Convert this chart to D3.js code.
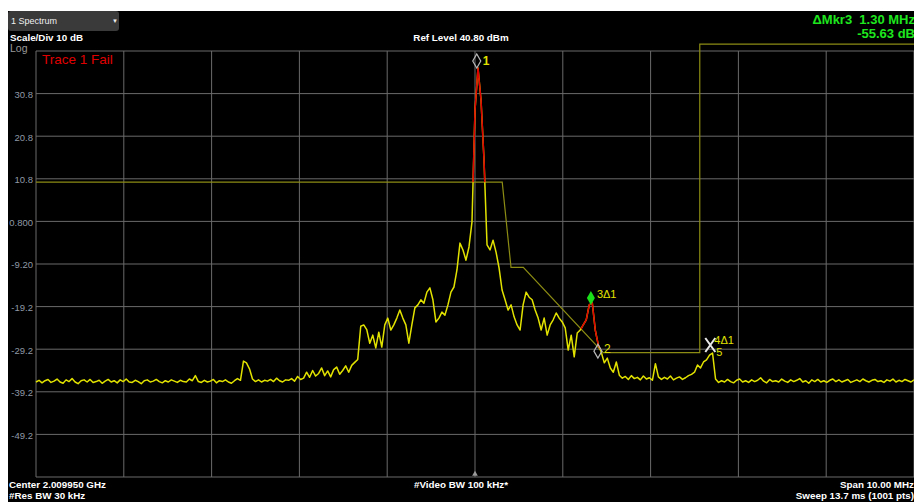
<!DOCTYPE html>
<html>
<head>
<meta charset="utf-8">
<script src="https://cdn.jsdelivr.net/npm/d3@7"></script>
<style>
body { margin: 0; background: #fff; }
svg { display: block; font-family: "Liberation Sans", Arial, sans-serif; }
</style>
</head>
<body>
<div id="chart-container"></div>
<script>
// spectrum analyzer screen, redrawn with d3
const svgWidth = 914;
const svgHeight = 502;
const margin = { top: 51, right: 0, bottom: 25, left: 36 };
const width = svgWidth - margin.left - margin.right;
const height = svgHeight - margin.top - margin.bottom;

// frequency offset from center (MHz) and level (dBm)
const spanStart = -5;
const spanEnd = 5;
const refLevel = 40.8;
const bottomLevel = -59.2;

const freqGridLines = [-5, -4, -3, -2, -1, 0, 1, 2, 3, 4, 5];
const levelGridLines = [40.8, 30.8, 20.8, 10.8, 0.8, -9.2, -19.2, -29.2, -39.2, -49.2, -59.2];
const yTickValues = [30.8, 20.8, 10.8, 0.8, -9.2, -19.2, -29.2, -39.2, -49.2];
const yTickLabels = ["30.8", "20.8", "10.8", "0.800", "-9.20", "-19.2", "-29.2", "-39.2", "-49.2"];

// trace 1 at equal steps across the span
const traceLevels = [
    -36.9,-36.5,-37.1,-36.6,-36.3,-37.0,-36.7,-36.2,-36.9,-37.2,
    -36.4,-36.8,-36.1,-36.9,-37.3,-36.6,-36.4,-36.9,-36.3,-37.0,
    -36.8,-36.5,-37.2,-36.7,-36.3,-36.9,-36.6,-37.1,-36.4,-36.8,
    -36.2,-36.9,-37.0,-36.5,-36.8,-37.3,-36.6,-36.4,-36.9,-36.7,
    -36.3,-36.8,-37.1,-36.6,-36.9,-36.4,-36.7,-37.0,-36.5,-36.8,
    -36.9,-36.2,-36.6,-35.4,-36.8,-37.0,-36.5,-36.9,-36.7,-36.3,
    -37.1,-36.6,-36.8,-36.4,-36.9,-37.2,-36.6,-36.1,-36.5,
    -32.0,-32.4,-33.8,
    -36.2,-36.8,-36.4,-36.9,-36.5,-36.7,-36.3,-36.8,-36.0,-36.6,
    -36.9,-36.4,-36.5,-36.1,-36.7,-35.6,-36.3,-36.0,
    -34.6,-35.8,-34.2,-35.5,-34.9,-33.6,-35.4,-34.3,-35.7,-34.0,
    -33.4,-35.1,-34.2,-33.1,-34.6,
    -33.0,-32.3,-31.6,
    -23.8,-23.5,-24.6,-27.8,-25.9,-28.9,-25.2,-28.7,-23.5,-21.9,
    -24.7,-23.5,-21.9,-20.0,-21.9,-23.5,-27.8,-23.5,-19.5,-18.8,
    -17.6,-18.4,-15.8,-14.8,-17.6,-22.8,-21.9,-20.5,-21.2,-18.8,
    -15.8,-14.6,-10.6,-4.3,-5.9,-8.3,-5.2,0.7,26.9,36.8,
    29.3,15.2,-4.7,-5.9,-3.6,-6.4,-10.1,-15.3,-17.6,-20.0,
    -18.8,-21.6,-23.5,-24.7,-18.8,-15.8,-17.0,-17.6,-20.0,-21.9,
    -24.7,-21.9,-25.9,-23.5,-22.3,-20.7,-21.9,-22.8,-24.2,-29.4,
    -25.9,-31.0,-25.4,-24.7,-23.5,-22.3,-18.8,-18.3,-24.7,-28.2,
    -29.9,-32.4,-31.3,-33.6,-34.6,-32.2,-35.3,
    -36.0,-35.6,-36.3,-35.4,-36.1,-35.8,-36.4,-35.5,-36.2,-35.9,
    -36.5,-32.6,-35.7,-36.3,-35.8,-36.2,-35.5,-36.4,-36.0,-35.7,
    -36.3,-35.9,-35.4,-35.1,
    -34.6,-32.9,-33.6,-32.2,-31.7,-30.6,-30.1,
    -36.2,
    -37.0,-36.6,-36.9,-36.3,-36.8,-37.1,-36.5,-36.2,-36.9,-36.6,
    -37.0,-36.4,-36.8,-36.5,-35.9,-36.7,-37.1,-36.3,-36.8,-36.6,
    -36.9,-36.2,-36.7,-37.0,-36.4,-36.8,-36.5,-36.1,-36.9,-36.6,
    -37.2,-36.4,-36.8,-36.3,-36.9,-36.6,-37.0,-36.5,-36.2,-36.8,
    -36.4,-36.9,-36.6,-36.3,-37.0,-36.7,-36.4,-36.8,-36.2,-36.6,
    -36.9,-36.5,-36.3,-36.8,-36.6,-37.0,-36.4,-36.7,-36.2,-36.9,
    -36.5,-36.8,-36.3,-36.6,-36.9,-36.4
];

// limit line 1
const limitFreqs = [-5, 0.31, 0.41, 0.55, 1.46, 2.56, 2.56, 5];
const limitLevels = [10, 10, -10, -10, -30, -30, 42.4, 42.4];

// markers
const markerIds = ["1", "2", "3", "4", "5"];
const markerLabels = ["1", "2", "3Δ1", "4Δ1", "5"];
const markerFreqs = [0.02, 1.40, 1.32, 2.68, 2.68];
const markerLevels = [36.8, -31.3, -18.8, -30.1, -30.1];

const svg = d3.select("#chart-container")
    .append("svg")
    .attr("width", svgWidth)
    .attr("height", svgHeight);

// screen background
svg.append("rect")
    .attr("x", 8).attr("y", 11)
    .attr("width", svgWidth - 8).attr("height", svgHeight - 11)
    .attr("fill", "#000");

const plot = svg.append("g")
    .attr("transform", `translate(${margin.left},${margin.top})`);

const x = d3.scaleLinear()
    .domain([spanStart, spanEnd])
    .range([0, width]);

const y = d3.scaleLinear()
    .domain([bottomLevel, refLevel])
    .range([height, 0]);

// grid
plot.selectAll(".vgrid")
    .data(freqGridLines)
    .enter()
    .append("line")
    .attr("class", "vgrid")
    .attr("x1", d => x(d)).attr("x2", d => x(d))
    .attr("y1", 0).attr("y2", height)
    .attr("stroke", "#6a6a6a")
    .attr("stroke-width", 1);

plot.selectAll(".hgrid")
    .data(levelGridLines)
    .enter()
    .append("line")
    .attr("class", "hgrid")
    .attr("x1", 0).attr("x2", width)
    .attr("y1", d => y(d)).attr("y2", d => y(d))
    .attr("stroke", "#6a6a6a")
    .attr("stroke-width", 1);

// y axis labels
const yAxis = plot.append("g")
    .attr("class", "axis axis-y")
    .call(d3.axisLeft(y)
        .tickValues(yTickValues)
        .tickFormat((d, i) => yTickLabels[i])
        .tickSize(0)
        .tickPadding(3));
yAxis.select(".domain").remove();
yAxis.selectAll("text")
    .attr("fill", "#8f99a6")
    .attr("font-size", 9.5)
    .attr("dy", "0.4em")
    .style("font-family", "\"Liberation Sans\", Arial, sans-serif");

// limit line
const limitPts = limitFreqs.map((f, i) => [x(f), y(limitLevels[i])]);
plot.append("path")
    .attr("d", d3.line()(limitPts))
    .attr("fill", "none")
    .attr("stroke", "#8c8c14")
    .attr("stroke-width", 1.2);

// region above the limit, trace drawn red there
const failArea = limitPts.concat([[x(spanEnd), -margin.top], [x(spanStart), -margin.top]]);
plot.append("clipPath")
    .attr("id", "failClip")
    .append("path")
    .attr("d", d3.line()(failArea) + "Z");

const n = traceLevels.length;
const stepF = (spanEnd - spanStart) / (n - 1);
const traceLine = d3.line()
    .x((d, i) => x(spanStart + i * stepF))
    .y(d => y(d));

plot.append("path")
    .attr("d", traceLine(traceLevels))
    .attr("fill", "none")
    .attr("stroke", "#e2e200")
    .attr("stroke-width", 1.5)
    .attr("stroke-linejoin", "round");

plot.append("path")
    .attr("d", traceLine(traceLevels))
    .attr("clip-path", "url(#failClip)")
    .attr("fill", "none")
    .attr("stroke", "#e00000")
    .attr("stroke-width", 1.5)
    .attr("stroke-linejoin", "round");

// center tick at the bottom
plot.append("path")
    .attr("d", d3.symbol().type(d3.symbolTriangle).size(14)())
    .attr("transform", `translate(${x(0)},${height - 3})`)
    .attr("fill", "#9a9a9a");

// markers, tip of the symbol sits on the trace
const markers = markerIds.map((id, i) => ({
    id: id,
    label: markerLabels[i],
    px: x(markerFreqs[i]),
    py: y(markerLevels[i])
}));

const diamond = "M0,0 L-4,-7 L0,-14 L4,-7 Z";
markers.forEach(m => {
    const g = plot.append("g").attr("transform", `translate(${m.px},${m.py})`);
    if (m.id === "3") {
        g.append("path").attr("d", diamond).attr("fill", "#19e019");
        g.append("text").text(m.label)
            .attr("x", 6).attr("y", -7)
            .attr("fill", "#e2e200").attr("font-size", 11);
    } else if (m.id === "1" || m.id === "2") {
        g.append("path").attr("d", diamond)
            .attr("fill", "none").attr("stroke", "#b8b8b8").attr("stroke-width", 1.2);
        g.append("text").text(m.label)
            .attr("x", 6).attr("y", m.id === "1" ? -3 : -5)
            .attr("fill", "#e2e200").attr("font-size", 12)
            .attr("font-weight", m.id === "1" ? "bold" : "normal");
    } else if (m.id === "4") {
        g.append("path").attr("d", "M-5,-15 L5,-1 M5,-15 L-5,-1")
            .attr("stroke", "#e8e8e8").attr("stroke-width", 2);
        g.append("text").text(m.label)
            .attr("x", 4).attr("y", -9)
            .attr("fill", "#e2e200").attr("font-size", 11);
    } else {
        g.append("text").text(m.label)
            .attr("x", 6).attr("y", 3)
            .attr("fill", "#e2e200").attr("font-size", 11);
    }
});

// header bits
svg.append("rect")
    .attr("x", 8).attr("y", 11)
    .attr("width", 111).attr("height", 20)
    .attr("rx", 3)
    .attr("fill", "#3a3a3a");
svg.append("text").text("1 Spectrum")
    .attr("x", 11).attr("y", 24)
    .attr("fill", "#f0f0f0").attr("font-size", 9);
svg.append("text").text("▼")
    .attr("x", 112).attr("y", 23)
    .attr("fill", "#f0f0f0").attr("font-size", 6);

svg.append("text").text("Scale/Div 10 dB")
    .attr("x", 10).attr("y", 41)
    .attr("fill", "#fff").attr("font-size", 9.8).attr("font-weight", "bold");
svg.append("text").text("Log")
    .attr("x", 10).attr("y", 52)
    .attr("fill", "#9a9a9a").attr("font-size", 10.5);
svg.append("text").text("Ref Level 40.80 dBm")
    .attr("x", 461).attr("y", 41)
    .attr("text-anchor", "middle")
    .attr("fill", "#fff").attr("font-size", 9.8).attr("font-weight", "bold");

svg.append("text").text("ΔMkr3  1.30 MHz")
    .attr("x", 915).attr("y", 24)
    .attr("text-anchor", "end")
    .attr("fill", "#1ee61e").attr("font-size", 13).attr("font-weight", "bold")
    .style("white-space", "pre");
svg.append("text").text("-55.63 dB")
    .attr("x", 915).attr("y", 38)
    .attr("text-anchor", "end")
    .attr("fill", "#1ee61e").attr("font-size", 13).attr("font-weight", "bold");

svg.append("text").text("Trace 1 Fail")
    .attr("x", 42).attr("y", 64)
    .attr("fill", "#e00000").attr("font-size", 13.5);

// footer
const footer = [
    { t: "Center 2.009950 GHz", x: 9, y: 488, a: "start" },
    { t: "#Res BW 30 kHz", x: 9, y: 499, a: "start" },
    { t: "#Video BW 100 kHz*", x: 461, y: 488, a: "middle" },
    { t: "Span 10.00 MHz", x: 914, y: 488, a: "end" },
    { t: "Sweep 13.7 ms (1001 pts)", x: 914, y: 499, a: "end" }
];
svg.selectAll(".footer")
    .data(footer)
    .enter()
    .append("text")
    .attr("class", "footer")
    .text(d => d.t)
    .attr("x", d => d.x).attr("y", d => d.y)
    .attr("text-anchor", d => d.a)
    .attr("fill", "#fff").attr("font-size", 9.8).attr("font-weight", "bold");
</script>
</body>
</html>
